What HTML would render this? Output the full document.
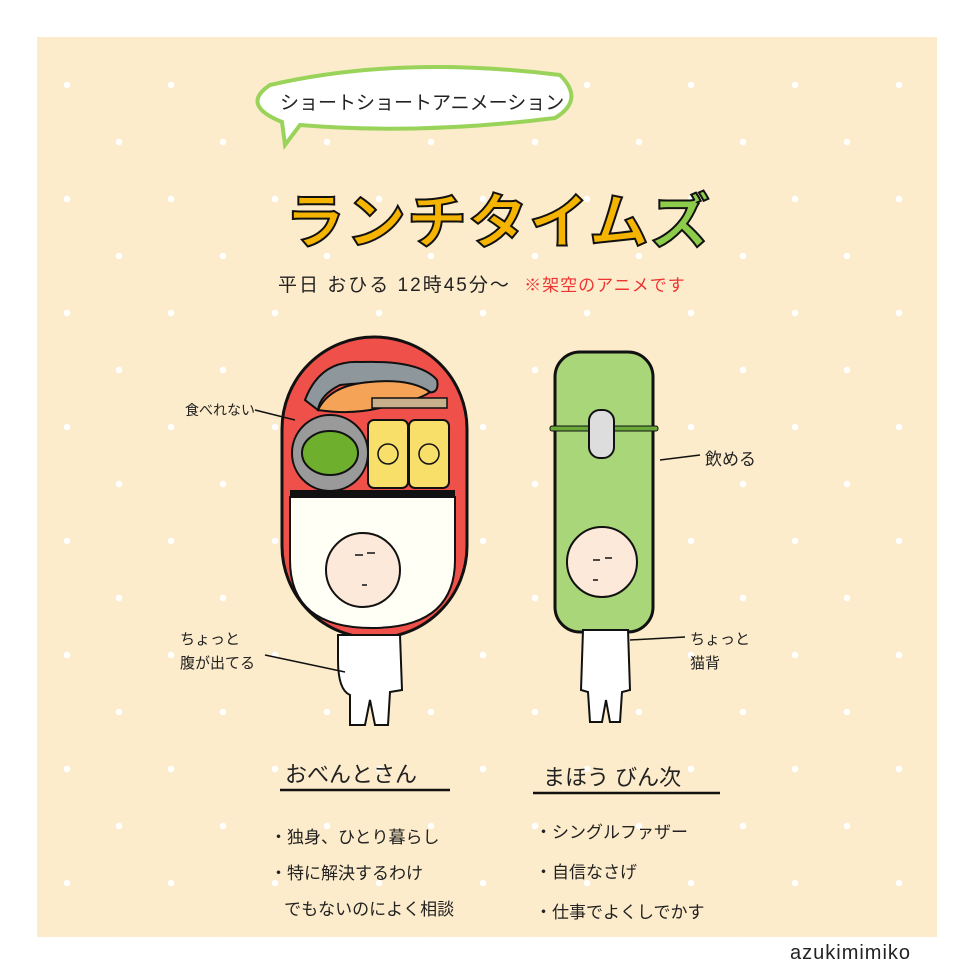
<!DOCTYPE html>
<html><head><meta charset="utf-8"><style>
body{margin:0;width:973px;height:973px;background:#fff;position:relative;overflow:hidden;font-family:"Liberation Sans","Noto Sans CJK JP",sans-serif}
#p{position:absolute;left:37px;top:37px;width:900px;height:900px;background-color:#fdeccb;
background-image:radial-gradient(circle,#fff 3px,transparent 3.5px),radial-gradient(circle,#fff 3px,transparent 3.5px);
background-size:104px 114px,104px 114px;background-position:-22px -9px,30px 48px}
.t{position:absolute;white-space:nowrap;color:#222}
</style></head><body>
<div id="p"></div>
<svg style="position:absolute;left:0;top:0" width="973" height="973">
<path d="M270 85 Q400 55 560 75 Q585 100 555 118 Q420 135 300 125 L285 145 L282 122 Q240 105 270 85Z" fill="#fff" stroke="#9ad35a" stroke-width="4"/>
<rect x="282" y="337" width="185" height="301" rx="92" fill="#f0504a" stroke="#111" stroke-width="3"/>
<path d="M290 497 L455 497 L455 560 Q455 628 372 628 Q290 628 290 560Z" fill="#fffff6" stroke="#111" stroke-width="2"/>
<rect x="290" y="490" width="165" height="7" fill="#111"/>
<path d="M305 400 Q320 360 360 362 Q420 360 437 380 Q440 395 425 392 Q380 380 340 385 Q320 395 318 410Z" fill="#8d979c" stroke="#111" stroke-width="2"/>
<path d="M318 410 Q330 385 370 382 Q410 378 430 392 Q420 400 380 408 Q350 415 318 410Z" fill="#f5a356" stroke="#111" stroke-width="2"/>
<rect x="372" y="398" width="75" height="10" fill="#c9b08c" stroke="#111" stroke-width="1.5"/>
<circle cx="330" cy="453" r="38" fill="#9a9a9a" stroke="#111" stroke-width="2"/>
<ellipse cx="330" cy="453" rx="28" ry="22" fill="#6eb02e" stroke="#111" stroke-width="2"/>
<rect x="368" y="420" width="40" height="68" rx="6" fill="#f8df6a" stroke="#111" stroke-width="2"/>
<rect x="409" y="420" width="40" height="68" rx="6" fill="#f8df6a" stroke="#111" stroke-width="2"/>
<circle cx="388" cy="454" r="10" fill="none" stroke="#111" stroke-width="1.5"/>
<circle cx="429" cy="454" r="10" fill="none" stroke="#111" stroke-width="1.5"/>
<path d="M338 635 L400 635 L402 690 L390 692 L388 725 L375 725 L370 700 L365 725 L350 725 L350 695 Q338 690 338 660Z" fill="#fff" stroke="#111" stroke-width="2"/>
<circle cx="363" cy="570" r="37" fill="#fde9d9" stroke="#111" stroke-width="2"/>
<rect x="555" y="352" width="98" height="280" rx="25" fill="#a8d679" stroke="#111" stroke-width="3"/>
<rect x="550" y="426" width="108" height="5" rx="2" fill="#6ba83a" stroke="#111" stroke-width="1"/>
<rect x="589" y="410" width="25" height="48" rx="11" fill="#ddd" stroke="#111" stroke-width="2"/>
<path d="M583 630 L628 630 L630 690 L622 692 L620 722 L610 722 L606 700 L602 722 L590 722 L588 692 L581 690Z" fill="#fff" stroke="#111" stroke-width="2"/>
<circle cx="602" cy="562" r="35" fill="#fde9d9" stroke="#111" stroke-width="2"/>
<g stroke="#111" stroke-width="1.5" fill="none">
<line x1="355" y1="555" x2="363" y2="555"/><line x1="367" y1="553" x2="375" y2="553"/><line x1="362" y1="585" x2="367" y2="585"/>
<line x1="593" y1="560" x2="600" y2="560"/><line x1="605" y1="558" x2="612" y2="558"/><line x1="593" y1="580" x2="598" y2="580"/>
<line x1="255" y1="410" x2="295" y2="420"/><line x1="265" y1="655" x2="345" y2="672"/>
<line x1="660" y1="460" x2="700" y2="455"/><line x1="630" y1="640" x2="685" y2="637"/>
<line x1="280" y1="790" x2="450" y2="790" stroke-width="2.5"/><line x1="533" y1="793" x2="720" y2="793" stroke-width="2.5"/>
</g>
</svg>
<div class="t" style="left:280px;top:88px;font-size:19px">ショートショートアニメーション</div>
<div class="t" style="left:285px;top:174px;font-size:60px;font-weight:bold;color:#f5b400;-webkit-text-stroke:2px #111;letter-spacing:1px">ランチタイム<span style="color:#8ccc4a">ズ</span></div>
<div class="t" style="left:278px;top:270px;font-size:19px;letter-spacing:2px">平日 おひる 12時45分～ <span style="color:#e33;font-size:17px;margin-left:6px;letter-spacing:1px">※架空のアニメです</span></div>
<div class="t" style="left:185px;top:400px;font-size:14px">食べれない</div>
<div class="t" style="left:705px;top:445px;font-size:17px">飲める</div>
<div class="t" style="left:180px;top:628px;font-size:15px;line-height:24px">ちょっと<br>腹が出てる</div>
<div class="t" style="left:690px;top:628px;font-size:15px;line-height:24px">ちょっと<br>猫背</div>
<div class="t" style="left:285px;top:757px;font-size:22px">おべんとさん</div>
<div class="t" style="left:543px;top:760px;font-size:22px">まほう びん次</div>
<div class="t" style="left:270px;top:820px;font-size:17px;line-height:36px">・独身、ひとり暮らし<br>・特に解決するわけ<br>&nbsp;&nbsp;&nbsp;でもないのによく相談</div>
<div class="t" style="left:535px;top:813px;font-size:17px;line-height:40px">・シングルファザー<br>・自信なさげ<br>・仕事でよくしでかす</div>
<div class="t" style="left:790px;top:942px;font-size:20px;letter-spacing:1px">azukimimiko</div>
</body></html>
